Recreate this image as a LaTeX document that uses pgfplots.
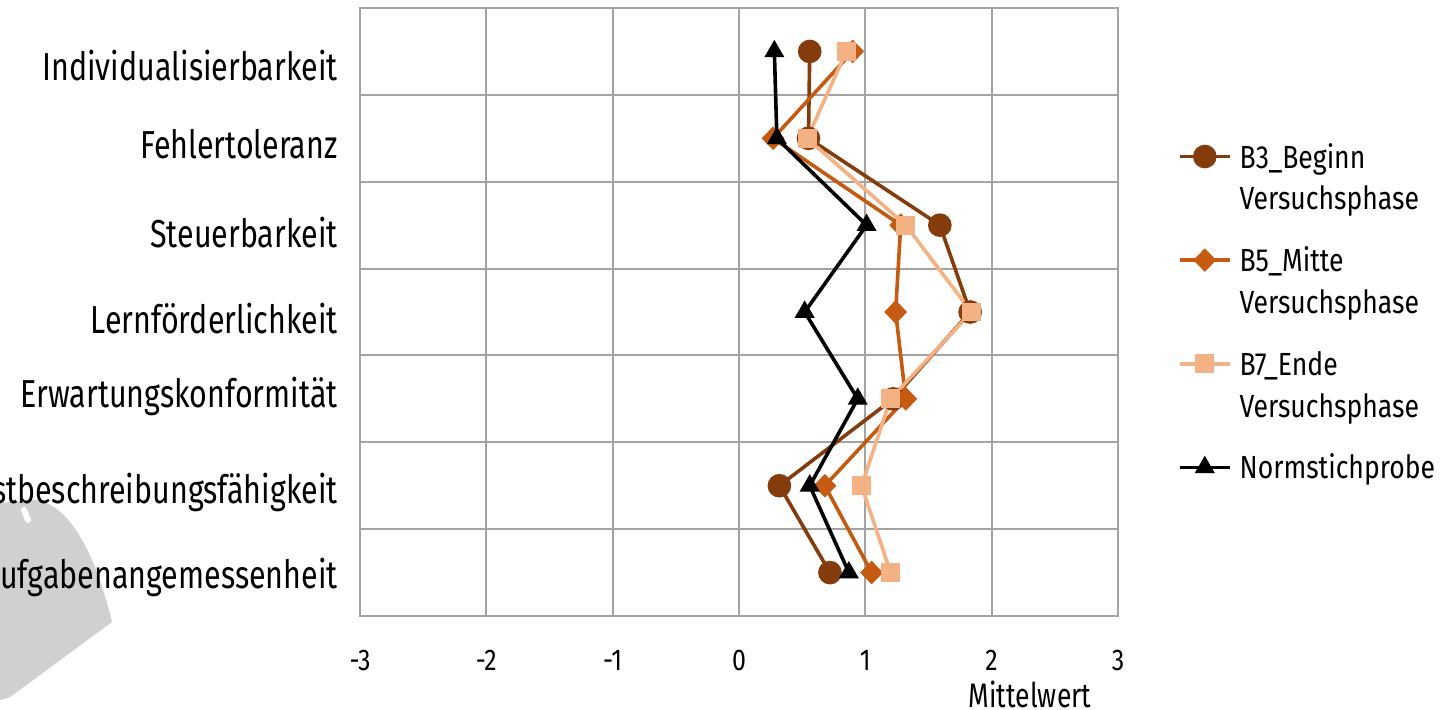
\documentclass[border=0pt]{standalone}
\usepackage{fontspec}
\setmainfont{Fira Sans}
\usepackage{pgfplots}
\pgfplotsset{compat=1.18}

\definecolor{bthree}{HTML}{843C0C}
\definecolor{bfive}{HTML}{C55A11}
\definecolor{bseven}{HTML}{F4B183}
\definecolor{gridgray}{HTML}{A3A3A3}
\definecolor{patchgray}{HTML}{D0D0D0}

% narrow setting of all labels
\newcommand{\nar}[1]{\scalebox{0.83}[1]{#1}}
\newcommand{\narc}[1]{\scalebox{0.78}[1]{#1}}
% legend rows: first line of an entry, and its continuation line
\newcommand{\firstline}[1]{\raisebox{0pt}[13pt][2pt]{\nar{#1}}}
\newcommand{\secondline}[1]{\raisebox{5pt}[13pt][2pt]{\nar{#1}}}

\begin{document}
\begin{tikzpicture}
\useasboundingbox (-180pt,-46.5pt) rectangle (540.5pt,308pt);
\clip (-180pt,-46.5pt) rectangle (540.5pt,308pt);
% grey shape behind the lower labels
\fill[patchgray] (-180pt,56.5pt) -- (-163.5pt,58pt)
  .. controls (-145pt,57pt) and (-132pt,30pt) .. (-124pt,-3pt)
  -- (-175pt,-40.5pt) -- (-180pt,-42pt) -- cycle;
\draw[white, line width=3pt, line cap=round] (-168pt,53pt) -- (-166pt,48pt);

\begin{axis}[
  at={(0pt,0pt)}, anchor=south west,
  scale only axis, width=379pt, height=304pt,
  xmin=-3, xmax=3, ymin=0.5, ymax=7.5, y dir=reverse,
  xtick={-3,-2,-1,0,1,2,3},
  xticklabels={\nar{-3},\nar{-2},\nar{-1},\nar{0},\nar{1},\nar{2},\nar{3}},
  % label baselines of the seven categories
  ytick={1.329,2.227,3.252,4.242,5.105,6.199,7.178},
  yticklabels={\narc{Individualisierbarkeit}, \narc{Fehlertoleranz},
    \narc{Steuerbarkeit}, \narc{Lernförderlichkeit},
    \narc{Erwartungskonformität}, \narc{Selbstbeschreibungsfähigkeit},
    \narc{Aufgabenangemessenheit}},
  minor ytick={1.5,2.5,3.5,4.5,5.5,6.5},
  xmajorgrids, yminorgrids,
  grid style={gridgray, line width=1pt},
  minor grid style={gridgray, line width=1pt},
  axis line style={gridgray, line width=1pt},
  major tick length=0pt, minor tick length=0pt,
  tick style={draw=none},
  xticklabel style={font=\fontsize{15}{18}\selectfont, anchor=north,
    inner sep=0pt, yshift=-17pt},
  yticklabel style={font=\fontsize{19.5}{22}\selectfont, anchor=base east,
    inner sep=0pt, xshift=-11pt},
  xlabel={\narc{Mittelwert}},
  xlabel style={font=\fontsize{17}{20}\selectfont,
    at={(axis description cs:0.884,0)}, anchor=base, yshift=-45.5pt},
  legend image code/.code={
    \draw[#1, mark repeat=2, mark phase=2]
      plot coordinates {(0pt,0pt) (12.5pt,0pt) (25pt,0pt)};},
  legend cell align=left,
  legend style={draw=none, fill=none, inner sep=0pt, outer sep=0pt,
    at={(axis description cs:1.0792,0.7796)}, anchor=north west,
    row sep=11.4pt, column sep=4pt,
    font=\fontsize{16}{21}\selectfont,
    nodes={inner sep=0pt}},
]

\addplot[bthree, line width=1.8pt, mark=*, mark size=5pt]
  coordinates {(0.56,1) (0.55,2) (1.59,3) (1.83,4) (1.22,5) (0.32,6) (0.72,7)};
\addlegendentry{\firstline{B3\_Beginn}}
\addlegendimage{empty legend}
\addlegendentry{\secondline{Versuchsphase}}

\addplot[bfive, line width=1.8pt, mark=diamond*, mark size=4.6pt,
  mark options={xscale=1.3}]
  coordinates {(0.90,1) (0.27,2) (1.28,3) (1.24,4) (1.32,5) (0.68,6) (1.05,7)};
\addlegendentry{\firstline{B5\_Mitte}}
\addlegendimage{empty legend}
\addlegendentry{\secondline{Versuchsphase}}

\addplot[bseven, line width=1.8pt, mark=square*, mark size=3.8pt]
  coordinates {(0.85,1) (0.54,2) (1.32,3) (1.84,4) (1.20,5) (0.97,6) (1.20,7)};
\addlegendentry{\firstline{B7\_Ende}}
\addlegendimage{empty legend}
\addlegendentry{\secondline{Versuchsphase}}

\addplot[black, line width=1.8pt, mark=triangle*, mark size=4pt]
  coordinates {(0.28,1) (0.30,2) (1.01,3) (0.52,4) (0.94,5) (0.56,6) (0.87,7)};
\addlegendentry{\firstline{Normstichprobe}}
\end{axis}
\end{tikzpicture}
\end{document}
